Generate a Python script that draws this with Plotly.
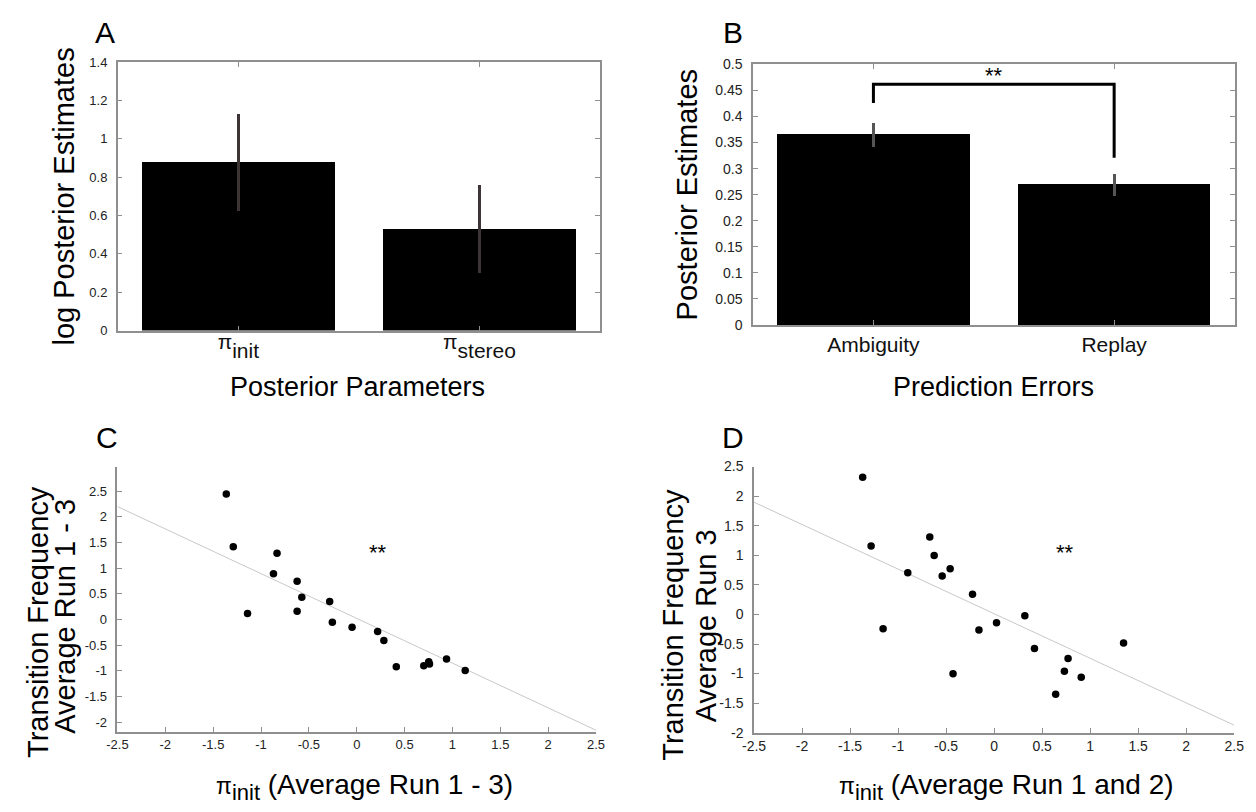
import plotly.graph_objects as go

# The page body keeps its default 8px margin, so the figure is made 8px smaller
# and all layout positions are given in window pixels minus that offset.
OFF = 8
W, H = 1256 - OFF, 812 - OFF

# ---------------- data ----------------
a_categories = ["<sup><span style='font-size:21px'>π</span></sup>init",
                "<sup><span style='font-size:21px'>π</span></sup>stereo"]
a_values = [0.88, 0.532]
a_err_plus = [0.25, 0.228]
a_err_minus = [0.258, 0.232]

b_categories = ["Ambiguity", "Replay"]
b_values = [0.365, 0.269]
b_err_plus = [0.023, 0.020]
b_err_minus = [0.024, 0.022]
b_bracket_x = [1, 1, 2, 2]
b_bracket_y = [0.426, 0.462, 0.462, 0.321]

c_x = [-1.363, -1.290, -1.141, -0.833, -0.870, -0.623, -0.574, -0.623, -0.283, -0.255,
       -0.049, 0.218, 0.283, 0.413, 0.700, 0.752, 0.760, 0.938, 1.133]
c_y = [2.443, 1.418, 0.113, 1.291, 0.890, 0.743, 0.431, 0.158, 0.348, -0.053,
       -0.154, -0.237, -0.409, -0.925, -0.905, -0.823, -0.868, -0.772, -0.995]
c_fit_slope = -0.872
c_fit_intercept = 0.02

d_x = [-1.369, -1.281, -1.156, -0.899, -0.670, -0.624, -0.541, -0.458, -0.428, -0.225,
       -0.158, 0.025, 0.320, 0.420, 0.641, 0.732, 0.770, 0.907, 1.348]
d_y = [2.318, 1.158, -0.244, 0.705, 1.307, 0.998, 0.650, 0.772, -1.001, 0.341,
       -0.261, -0.139, -0.023, -0.576, -1.349, -0.962, -0.747, -1.062, -0.482]
d_fit_slope = -0.754
d_fit_intercept = 0.0125

fit_x = [-2.5, 2.5]

a_yticks = [0, 0.2, 0.4, 0.6, 0.8, 1.0, 1.2, 1.4]
a_yticktext = ["0", "0.2", "0.4", "0.6", "0.8", "1", "1.2", "1.4"]
b_yticks = [0, 0.05, 0.1, 0.15, 0.2, 0.25, 0.3, 0.35, 0.4, 0.45, 0.5]
b_yticktext = ["0", "0.05", "0.1", "0.15", "0.2", "0.25", "0.3", "0.35", "0.4", "0.45", "0.5"]
cd_xticks = [-2.5, -2, -1.5, -1, -0.5, 0, 0.5, 1, 1.5, 2, 2.5]
cd_xticktext = ["-2.5", "-2", "-1.5", "-1", "-0.5", "0", "0.5", "1", "1.5", "2", "2.5"]
c_yticks = [-2, -1.5, -1, -0.5, 0, 0.5, 1, 1.5, 2, 2.5]
c_yticktext = ["-2", "-1.5", "-1", "-0.5", "0", "0.5", "1", "1.5", "2", "2.5"]
d_yticks = [-2, -1.5, -1, -0.5, 0, 0.5, 1, 1.5, 2, 2.5]
d_yticktext = ["-2", "-1.5", "-1", "-0.5", "0", "0.5", "1", "1.5", "2", "2.5"]

# ---------------- helpers ----------------
def px_x(x):
    return (x - OFF) / W

def px_y(y):
    return 1 - (y - OFF) / H

FONT = "Liberation Sans, Arial, Helvetica, sans-serif"
AXCOL = "#8f8f8f"

fig = go.Figure()

# Panel A bars
fig.add_trace(go.Bar(
    x=[1, 2], y=a_values, width=0.8, marker=dict(color="black", line=dict(width=0)),
    error_y=dict(type="data", symmetric=False, array=a_err_plus, arrayminus=a_err_minus,
                 color="#3d3535", thickness=2.5, width=0),
    xaxis="x", yaxis="y", showlegend=False))

# Panel B bars
fig.add_trace(go.Bar(
    x=[1, 2], y=b_values, width=0.8, marker=dict(color="black", line=dict(width=0)),
    error_y=dict(type="data", symmetric=False, array=b_err_plus, arrayminus=b_err_minus,
                 color="#555555", thickness=3, width=0),
    xaxis="x2", yaxis="y2", showlegend=False))
fig.add_trace(go.Scatter(
    x=b_bracket_x, y=b_bracket_y, mode="lines", line=dict(color="black", width=3),
    xaxis="x2", yaxis="y2", showlegend=False, hoverinfo="skip"))

# Panel C
fig.add_trace(go.Scatter(
    x=fit_x, y=[c_fit_intercept + c_fit_slope * v for v in fit_x], mode="lines",
    line=dict(color="#c8c8c8", width=1), xaxis="x3", yaxis="y3", showlegend=False))
fig.add_trace(go.Scatter(
    x=c_x, y=c_y, mode="markers", marker=dict(color="black", size=7.5),
    xaxis="x3", yaxis="y3", showlegend=False))

# Panel D
fig.add_trace(go.Scatter(
    x=fit_x, y=[d_fit_intercept + d_fit_slope * v for v in fit_x], mode="lines",
    line=dict(color="#c8c8c8", width=1), xaxis="x4", yaxis="y4", showlegend=False))
fig.add_trace(go.Scatter(
    x=d_x, y=d_y, mode="markers", marker=dict(color="black", size=7.5),
    xaxis="x4", yaxis="y4", showlegend=False))

tickfont13 = dict(family=FONT, size=13, color="#222222")
tickfont14 = dict(family=FONT, size=14, color="#222222")
catfont = dict(family=FONT, size=21, color="#111111")

box_common = dict(showline=True, linecolor=AXCOL, linewidth=1.5, mirror="allticks",
                  ticks="inside", ticklen=5, tickcolor=AXCOL, showgrid=False, zeroline=False)
open_common = dict(showline=True, linecolor=AXCOL, linewidth=1.5, mirror=False,
                   ticks="inside", ticklen=5, tickcolor=AXCOL, showgrid=False, zeroline=False)

fig.update_layout(
    width=W, height=H, margin=dict(l=0, r=0, t=0, b=0),
    paper_bgcolor="white", plot_bgcolor="white", bargap=0,
    xaxis=dict(domain=[px_x(107.5), px_x(598.5)], anchor="y", range=[0.5, 2.5],
               tickvals=[1, 2], ticktext=a_categories, tickfont=catfont, **box_common),
    yaxis=dict(domain=[px_y(329), px_y(55)], anchor="x", range=[0, 1.4],
               tickvals=a_yticks, ticktext=a_yticktext, tickfont=tickfont13,
               ticklabelstandoff=6, **box_common),
    xaxis2=dict(domain=[px_x(754.2), px_x(1244.3)], anchor="y2", range=[0.5, 2.5],
                tickvals=[1, 2], ticktext=b_categories, tickfont=catfont, **box_common),
    yaxis2=dict(domain=[px_y(323.3), px_y(57.3)], anchor="x2", range=[0, 0.5],
                tickvals=b_yticks, ticktext=b_yticktext, tickfont=tickfont14,
                ticklabelstandoff=6, **box_common),
    xaxis3=dict(domain=[px_x(107.2), px_x(594.4)], anchor="y3", range=[-2.5, 2.5],
                tickvals=cd_xticks, ticktext=cd_xticktext, tickfont=tickfont13, **open_common),
    yaxis3=dict(domain=[px_y(738.3), px_y(467.7)], anchor="x3", range=[-2.19, 2.98],
                tickvals=c_yticks, ticktext=c_yticktext, tickfont=tickfont13,
                ticklabelstandoff=6, **open_common),
    xaxis4=dict(domain=[px_x(755.2), px_x(1244.0)], anchor="y4", range=[-2.5, 2.5],
                tickvals=cd_xticks, ticktext=cd_xticktext, tickfont=tickfont14, **open_common),
    yaxis4=dict(domain=[px_y(739.3), px_y(467.7)], anchor="x4", range=[-2, 2.5],
                tickvals=d_yticks, ticktext=d_yticktext, tickfont=tickfont14,
                ticklabelstandoff=6, **open_common),
)

def paper_text(text, x, y, size, angle=0):
    fig.add_annotation(text=text, x=px_x(x), y=px_y(y), xref="paper", yref="paper",
                       xanchor="center", yanchor="middle", showarrow=False, textangle=angle,
                       font=dict(family=FONT, size=size, color="black"))

# panel letters
paper_text("A", 94.6, 25, 30)
paper_text("B", 733.7, 25, 30)
paper_text("C", 96.6, 438, 30)
paper_text("D", 733.7, 438, 30)

# axis titles
paper_text("log Posterior Estimates", 53, 192, 29, -90)
paper_text("Posterior Parameters", 352, 387, 27)
paper_text("Posterior Estimates", 687, 191, 29, -90)
paper_text("Prediction Errors", 998.5, 387, 27)

pi_init = "<span style='font-size:23px'>π</span><sub><span style='font-size:22px'>init</span></sub>"
paper_text("Transition Frequency", 25.6, 626, 29, -90)
paper_text("Average Run 1 - 3", 53.8, 620, 29, -90)
paper_text(pi_init + " (Average Run 1 - 3)", 358.7, 795, 28)

paper_text("Transition Frequency", 672.8, 629, 29, -90)
paper_text("Average Run 3", 706, 630, 29, -90)
paper_text(pi_init + " (Average Run 1 and 2)", 1011.8, 795, 28)

# significance stars
fig.add_annotation(text="**", x=1.5, y=0.479, xref="x2", yref="y2", showarrow=False,
                   font=dict(family=FONT, size=22, color="black"))
fig.add_annotation(text="**", x=0.22, y=1.31, xref="x3", yref="y3", showarrow=False,
                   font=dict(family=FONT, size=22, color="black"))
fig.add_annotation(text="**", x=0.74, y=1.05, xref="x4", yref="y4", showarrow=False,
                   font=dict(family=FONT, size=22, color="black"))

fig.write_html("out.html")
